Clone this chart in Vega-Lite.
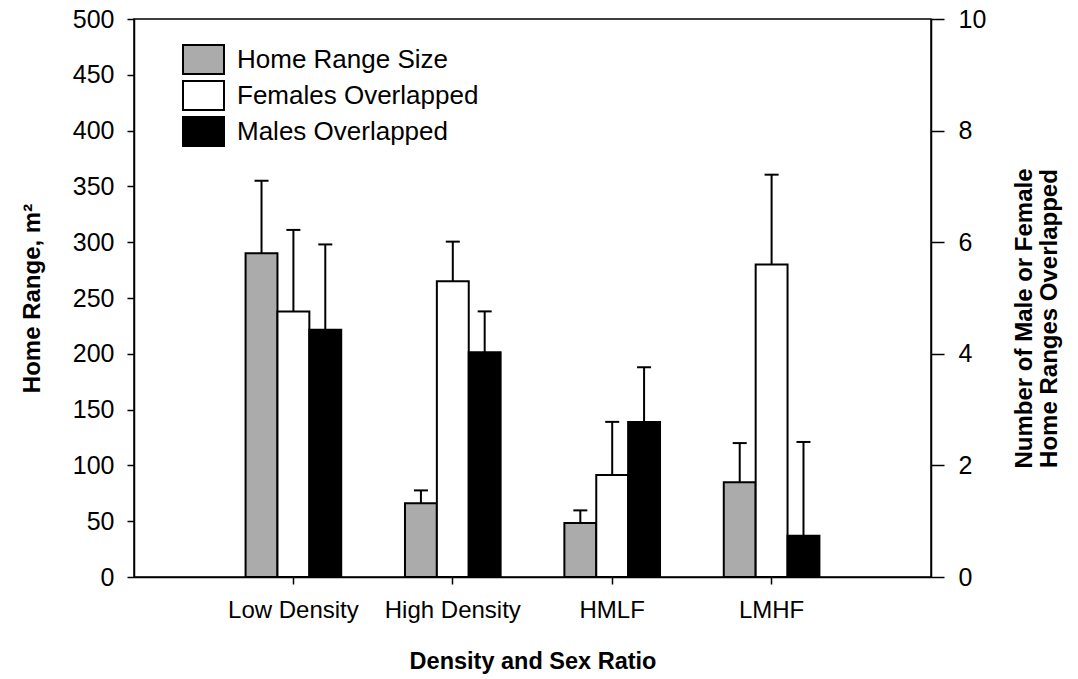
{
  "$schema": "https://vega.github.io/schema/vega-lite/v6.json",
  "width": 797,
  "height": 558,
  "autosize": "none",
  "padding": {"left": 134, "top": 19, "right": 147, "bottom": 102},
  "background": "white",
  "datasets": {
    "hr": [
      {"cat": "Low Density", "series": "Home Range Size", "value": 290, "upper": 355},
      {"cat": "High Density", "series": "Home Range Size", "value": 66, "upper": 77.6},
      {"cat": "HMLF", "series": "Home Range Size", "value": 48.4, "upper": 59.7},
      {"cat": "LMHF", "series": "Home Range Size", "value": 85, "upper": 120}
    ],
    "ov": [
      {"cat": "Low Density", "series": "Females Overlapped", "value": 4.76, "upper": 6.22},
      {"cat": "High Density", "series": "Females Overlapped", "value": 5.30, "upper": 6.01},
      {"cat": "HMLF", "series": "Females Overlapped", "value": 1.83, "upper": 2.78},
      {"cat": "LMHF", "series": "Females Overlapped", "value": 5.60, "upper": 7.21},
      {"cat": "Low Density", "series": "Males Overlapped", "value": 4.43, "upper": 5.96},
      {"cat": "High Density", "series": "Males Overlapped", "value": 4.03, "upper": 4.76},
      {"cat": "HMLF", "series": "Males Overlapped", "value": 2.78, "upper": 3.76},
      {"cat": "LMHF", "series": "Males Overlapped", "value": 0.74, "upper": 2.42}
    ]
  },
  "encoding": {
    "x": {
      "field": "cat",
      "type": "nominal",
      "sort": ["Low Density", "High Density", "HMLF", "LMHF"],
      "scale": {"domain": ["Low Density", "High Density", "HMLF", "LMHF"], "paddingInner": 0, "paddingOuter": 0.5},
      "axis": {
        "title": "Density and Sex Ratio",
        "labelAngle": 0,
        "labelFontSize": 24,
        "labelPadding": 14,
        "tickSize": 7,
        "bandPosition": 0.5,
        "titleFontSize": 23.5,
        "titleFontWeight": "bold",
        "titlePadding": 27
      }
    },
    "xOffset": {
      "field": "series",
      "type": "nominal",
      "scale": {"domain": ["Home Range Size", "Females Overlapped", "Males Overlapped"], "paddingInner": 0, "paddingOuter": 1}
    },
    "fill": {
      "field": "series",
      "type": "nominal",
      "scale": {"domain": ["Home Range Size", "Females Overlapped", "Males Overlapped"], "range": ["#ababab", "#ffffff", "#000000"]},
      "legend": {
        "title": null,
        "orient": "none",
        "legendX": 54,
        "legendY": 25,
        "padding": 0,
        "symbolType": "M-1.414,-1L1.414,-1L1.414,1L-1.414,1Z",
        "symbolSize": 841,
        "symbolStrokeColor": "black",
        "symbolStrokeWidth": 2,
        "symbolOpacity": 1,
        "labelFontSize": 26,
        "labelOffset": 18,
        "rowPadding": -1,
        "labelFont": "Liberation Sans",
        "labelColor": "black",
        "labelLimit": 400
      }
    }
  },
  "layer": [
    {
      "data": {"name": "hr"},
      "encoding": {
        "y": {
          "field": "value",
          "type": "quantitative",
          "scale": {"domain": [0, 500]},
          "axis": {
            "orient": "left",
            "title": "Home Range, m²",
            "values": [0, 50, 100, 150, 200, 250, 300, 350, 400, 450, 500],
            "tickSize": 7,
            "labelPadding": 13,
            "labelFontSize": 25,
            "titleFontSize": 24,
            "titleFontWeight": "bold",
            "titlePadding": 28,
            "grid": false
          }
        }
      },
      "layer": [
        {
          "mark": {"type": "bar", "stroke": "black", "strokeWidth": 2}
        },
        {
          "mark": {"type": "rule", "strokeWidth": 2, "color": "black"},
          "encoding": {
            "y2": {"field": "upper"}
          }
        },
        {
          "mark": {"type": "tick", "size": 14, "thickness": 2, "color": "black", "opacity": 1},
          "encoding": {
            "y": {"field": "upper", "type": "quantitative"},
            "fill": {"value": "black"}
          }
        }
      ]
    },
    {
      "data": {"name": "ov"},
      "encoding": {
        "y": {
          "field": "value",
          "type": "quantitative",
          "scale": {"domain": [0, 10]},
          "axis": {
            "orient": "right",
            "title": ["Number of Male or Female", "Home Ranges Overlapped"],
            "values": [0, 2, 4, 6, 8, 10],
            "tickSize": 13,
            "labelPadding": 14,
            "labelFontSize": 25,
            "titleFontSize": 24,
            "titleFontWeight": "bold",
            "titleAngle": -90,
            "titleAlign": "center",
            "titleBaseline": "top",
            "titleX": 81,
            "titleY": 299,
            "titleLineHeight": 25,
            "grid": false
          }
        }
      },
      "layer": [
        {
          "mark": {"type": "bar", "stroke": "black", "strokeWidth": 2}
        },
        {
          "mark": {"type": "rule", "strokeWidth": 2, "color": "black"},
          "encoding": {
            "y2": {"field": "upper"}
          }
        },
        {
          "mark": {"type": "tick", "size": 14, "thickness": 2, "color": "black", "opacity": 1},
          "encoding": {
            "y": {"field": "upper", "type": "quantitative"},
            "fill": {"value": "black"}
          }
        }
      ]
    }
  ],
  "resolve": {"scale": {"y": "independent"}},
  "config": {
    "font": "Liberation Sans",
    "view": {"stroke": "black", "strokeWidth": 1.5},
    "axis": {
      "domainColor": "black",
      "domainWidth": 1.5,
      "tickColor": "black",
      "tickWidth": 1.5,
      "labelColor": "black",
      "titleColor": "black",
      "labelFont": "Liberation Sans",
      "titleFont": "Liberation Sans",
      "grid": false
    },
    "bar": {"opacity": 1}
  }
}
